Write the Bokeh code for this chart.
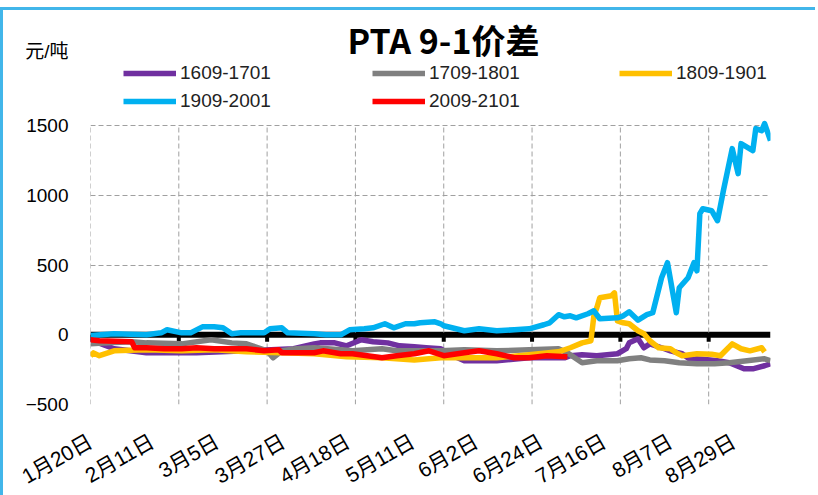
from bokeh.plotting import figure
from bokeh.models import (Range1d, FixedTicker, Span, Legend, LegendItem, Label)
from bokeh.embed import file_html
from bokeh.resources import INLINE

# ---------------- data (x = days since 1月20日) ----------------
x_1609 = [0,3,8,19,36,53,69,76,78,83,87,92,96,101,105,110,114,119,122,127,138,149,161,163,167,172,179,182,183,186,188,190,194,197,201,204,206,213,217,222,225,229,231]
y_1609 = [-30,-60,-100,-129,-129,-115,-100,-65,-58,-58,-79,-36,-50,-58,-79,-86,-93,-100,-140,-186,-186,-165,-165,-150,-143,-150,-136,-100,-58,-29,-93,-65,-93,-115,-136,-180,-172,-186,-200,-244,-244,-222,-208]

x_1709 = [0,6,14,19,31,41,48,53,55,60,62,65,70,76,85,89,99,104,110,119,127,138,149,159,162,167,172,179,183,187,190,195,200,206,212,217,223,229,231]
y_1709 = [-65,-58,-50,-58,-65,-36,-58,-65,-79,-115,-165,-115,-100,-93,-108,-115,-100,-115,-115,-115,-108,-115,-108,-100,-129,-200,-186,-186,-172,-165,-180,-186,-200,-208,-208,-200,-186,-172,-186]

x_1809 = [0,1,3,8,19,31,42,53,65,76,87,99,110,119,127,138,149,159,163,167,170,171,172,173,177,178,179,181,183,186,188,190,193,197,199,201,206,211,214,215,218,221,224,228,229]
y_1809 = [-150,-130,-150,-115,-108,-115,-108,-122,-129,-136,-158,-165,-180,-165,-165,-165,-143,-122,-93,-58,-43,136,194,266,280,301,100,86,79,29,7,-43,-93,-100,-129,-150,-136,-140,-150,-129,-65,-100,-115,-93,-122]

x_1909 = [0,8,19,24,26,31,34,38,42,45,48,51,59,61,65,67,76,80,85,88,93,96,100,103,107,110,112,117,119,120,127,132,138,144,149,154,156,159,161,163,165,169,171,173,176,179,181,183,186,189,191,194,196,199,200,203,205,206,207,208,211,213,215,218,220,221,225,226,228,229,231]
y_1909 = [-5,7,0,14,36,14,14,57,57,50,7,14,14,43,50,14,7,0,0,36,43,50,79,50,79,79,86,93,79,65,29,43,29,36,43,72,86,144,129,136,122,151,172,115,118,122,136,165,105,144,158,409,517,158,337,409,517,459,869,904,890,818,1034,1335,1156,1371,1321,1479,1464,1515,1393]

x_2009 = [0,3,14,15,19,25,31,36,42,48,53,59,64,65,70,76,79,85,89,94,99,104,110,115,120,127,132,138,144,149,155,162]
y_2009 = [-36,-43,-50,-93,-93,-100,-100,-93,-100,-100,-100,-115,-108,-129,-129,-129,-115,-136,-136,-150,-165,-150,-136,-115,-150,-129,-115,-136,-165,-165,-150,-158]

series_names = ["1609-1701", "1709-1801", "1809-1901", "1909-2001", "2009-2101"]
series_colors = ["#7030A0", "#808080", "#FFC000", "#00B0F0", "#FF0000"]

label_ticks = [0, 21, 43, 65.5, 87.5, 109.5, 131, 153, 174.5, 197, 218.5]
label_texts = ["1月20日", "2月11日", "3月5日", "3月27日", "4月18日", "5月11日",
               "6月2日", "6月24日", "7月16日", "8月7日", "8月29日"]
grid_ticks = [0, 30, 60, 90, 120, 150, 180, 210]
y_ticks = [-500, 0, 500, 1000, 1500]
unit_tick = 2030

title_text = "PTA 9-1价差"
unit_text = "元/吨"

# ---------------- figure ----------------
p = figure(frame_width=680, frame_height=389, output_backend="svg", toolbar_location=None,
           x_range=Range1d(0, 231), y_range=Range1d(-500, 2290),
           min_border_left=87, min_border_right=45, min_border_top=5,
           min_border_bottom=86)
p.styles = {"border-top": "3px solid #41B6EA", "border-left": "3px solid #41B6EA",
            "margin-top": "7px"}
p.outline_line_color = None
p.background_fill_color = "white"
p.border_fill_color = "white"

# y axis (unit shown as the top label)
p.yaxis.ticker = FixedTicker(ticks=y_ticks + [unit_tick])
p.yaxis.major_label_overrides = {unit_tick: unit_text}
p.yaxis.axis_line_color = None
p.yaxis.major_tick_line_color = None
p.yaxis.minor_tick_line_color = None
p.yaxis.major_label_standoff = 16
p.yaxis.major_label_text_font = "Liberation Sans, Noto Sans CJK SC"
p.yaxis.major_label_text_font_size = "19px"
p.yaxis.major_label_text_color = "black"

# x axis
p.xaxis.ticker = FixedTicker(ticks=label_ticks)
p.xaxis.major_label_overrides = {t: s for t, s in zip(label_ticks, label_texts)}
p.xaxis.axis_line_color = None
p.xaxis.major_tick_line_color = None
p.xaxis.minor_tick_line_color = None
p.xaxis.major_label_orientation = 0.52
p.xaxis.major_label_standoff = 29
p.xaxis.major_label_text_font = "Liberation Sans, Noto Sans CJK SC"
p.xaxis.major_label_text_font_size = "21px"
p.xaxis.major_label_text_color = "black"

# grids
p.xgrid.visible = False
p.ygrid.ticker = FixedTicker(ticks=y_ticks)
p.ygrid.grid_line_color = "#A0A0A0"
p.ygrid.grid_line_dash = "5 3"
p.ygrid.grid_line_width = 1
p.segment(x0=grid_ticks, x1=grid_ticks, y0=[y_ticks[0]] * len(grid_ticks),
          y1=[y_ticks[-1]] * len(grid_ticks), line_color="#A0A0A0",
          line_dash="5 3", line_width=1)

# zero axis line with tick marks
p.add_layout(Span(location=0, dimension="width", line_color="black",
                  line_width=6, level="underlay"))
p.segment(x0=grid_ticks, x1=grid_ticks, y0=[0] * len(grid_ticks),
          y1=[-50] * len(grid_ticks), line_color="black", line_width=4)

# series
xs = [x_1609, x_1709, x_1809, x_1909, x_2009]
ys = [y_1609, y_1709, y_1809, y_1909, y_2009]
rends = []
for xx, yy, c in zip(xs, ys, series_colors):
    r = p.line(xx, yy, line_color=c, line_width=5.5, line_join="round")
    rends.append(r)

# legends (three columns)
def make_legend(idx, loc):
    lg = Legend(items=[LegendItem(label=series_names[i], renderers=[rends[i]]) for i in idx],
                location=loc, orientation="vertical", glyph_width=53, glyph_height=24,
                label_height=24, label_standoff=4, spacing=4, padding=0, margin=0,
                border_line_color=None, background_fill_alpha=0,
                label_text_font="Liberation Sans", label_text_font_size="19px",
                label_text_color="#222222")
    p.add_layout(lg, "center")

make_legend([0, 3], (33, 291))
make_legend([1, 4], (282, 291))
make_legend([2], (529, 319))

# title
p.add_layout(Label(x=353, y=365, x_units="screen", y_units="screen", text=title_text,
                   text_font="Liberation Sans Narrow, Noto Sans CJK SC", text_font_style="bold",
                   text_font_size="34px", text_align="center", text_baseline="middle",
                   text_color="black"))

open("out.html", "w").write(file_html(p, INLINE))
